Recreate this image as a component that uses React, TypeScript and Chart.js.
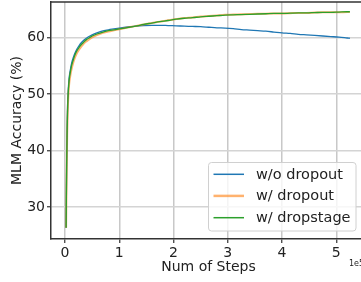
import React, { useEffect, useRef } from "react";
import { Chart, registerables } from "chart.js";

Chart.register(...registerables);

// steps (in thousands)
const steps = [2, 3, 4, 5, 6, 7, 8, 10, 12, 15, 18, 22, 26, 30, 35, 40, 45, 50, 60, 70, 80, 90, 100, 115, 130, 145, 160, 175, 190, 205, 220, 235, 250, 265, 280, 295, 310, 325, 340, 355, 370, 385, 400, 415, 430, 445, 460, 475, 490, 505, 520, 525];

const woDropout = [26.3, 38, 45, 48.8, 50.8, 52.2, 53.2, 54.4, 55.4, 56.4, 57.2, 58.0, 58.6, 59.1, 59.6, 59.95, 60.25, 60.5, 60.9, 61.2, 61.4, 61.55, 61.7, 61.9, 62.05, 62.15, 62.2, 62.2, 62.15, 62.1, 62.05, 62.0, 61.95, 61.85, 61.75, 61.7, 61.6, 61.45, 61.35, 61.25, 61.15, 61.0, 60.85, 60.75, 60.6, 60.5, 60.4, 60.3, 60.2, 60.1, 59.95, 59.9];

const wDropout = [26.3, 36, 43, 47, 49.5, 51, 52.1, 53.4, 54.4, 55.5, 56.4, 57.3, 57.9, 58.4, 59.0, 59.4, 59.75, 60.05, 60.5, 60.85, 61.1, 61.3, 61.5, 61.8, 62.05, 62.35, 62.6, 62.85, 63.1, 63.3, 63.5, 63.6, 63.75, 63.85, 63.95, 64.05, 64.1, 64.15, 64.2, 64.25, 64.25, 64.3, 64.3, 64.35, 64.4, 64.4, 64.45, 64.5, 64.5, 64.5, 64.55, 64.55];

const wDropstage = [26.3, 37, 44, 48, 50.3, 51.8, 52.8, 54.0, 55.0, 56.0, 56.9, 57.7, 58.3, 58.8, 59.3, 59.7, 60.0, 60.3, 60.7, 61.0, 61.25, 61.4, 61.55, 61.8, 62.05, 62.35, 62.6, 62.85, 63.05, 63.3, 63.45, 63.55, 63.7, 63.8, 63.9, 64.0, 64.05, 64.1, 64.15, 64.2, 64.25, 64.3, 64.3, 64.35, 64.4, 64.4, 64.45, 64.5, 64.5, 64.55, 64.6, 64.6];

const seriesLabels = ["w/o dropout", "w/ dropout", "w/ dropstage"];
const xTickValues = [0, 1, 2, 3, 4, 5];
const yTickValues = [30, 40, 50, 60];

const FONT = "'DejaVu Sans', sans-serif";
const CANVAS_W = 366;

const toPts = (vals: number[]) => vals.map((v, i) => ({ x: steps[i] * 1000, y: v }));

export default function App() {
  const ref = useRef<HTMLCanvasElement | null>(null);
  useEffect(() => {
    if (!ref.current) return;
    const legendItems = [
      { label: seriesLabels[0], color: "#1f77b4", width: 1.5 },
      { label: seriesLabels[1], color: "rgba(255,127,14,0.6)", width: 2.5 },
      { label: seriesLabels[2], color: "#2ca02c", width: 1.5 },
    ];
    const extras = {
      id: "extras",
      afterDraw(chart: any) {
        const { ctx, chartArea } = chart;
        ctx.save();
        // top spine
        ctx.strokeStyle = "#333";
        ctx.lineWidth = 1.5;
        ctx.beginPath();
        ctx.moveTo(chartArea.left, chartArea.top);
        ctx.lineTo(chartArea.right, chartArea.top);
        ctx.stroke();
        // legend
        const bx = 208.5, by = 162.5, bw = 147.5, bh = 68.5, r = 3;
        ctx.beginPath();
        ctx.moveTo(bx + r, by);
        ctx.lineTo(bx + bw - r, by);
        ctx.arcTo(bx + bw, by, bx + bw, by + r, r);
        ctx.lineTo(bx + bw, by + bh - r);
        ctx.arcTo(bx + bw, by + bh, bx + bw - r, by + bh, r);
        ctx.lineTo(bx + r, by + bh);
        ctx.arcTo(bx, by + bh, bx, by + bh - r, r);
        ctx.lineTo(bx, by + r);
        ctx.arcTo(bx, by, bx + r, by, r);
        ctx.closePath();
        ctx.fillStyle = "rgba(255,255,255,0.8)";
        ctx.fill();
        ctx.strokeStyle = "#d0d0d0";
        ctx.lineWidth = 1;
        ctx.stroke();
        const rows = [174.3, 195.9, 217.7];
        legendItems.forEach((it, i) => {
          ctx.strokeStyle = it.color;
          ctx.lineWidth = it.width;
          ctx.beginPath();
          ctx.moveTo(213.5, rows[i]);
          ctx.lineTo(244, rows[i]);
          ctx.stroke();
          ctx.fillStyle = "#222";
          ctx.font = `14.5px ${FONT}`;
          ctx.textBaseline = "middle";
          ctx.textAlign = "left";
          ctx.fillText(it.label, 256, rows[i] + 0.5);
        });
        // offset text
        ctx.font = `8px ${FONT}`;
        ctx.fillStyle = "#222";
        ctx.textAlign = "left";
        ctx.textBaseline = "middle";
        ctx.fillText("1e5", 349, 264);
        ctx.restore();
      },
    };
    const chart = new Chart(ref.current, {
      type: "line",
      data: {
        datasets: [
          { label: seriesLabels[0], data: toPts(woDropout), borderColor: "#1f77b4", borderWidth: 1.3, pointRadius: 0, order: 3, cubicInterpolationMode: "monotone" },
          { label: seriesLabels[1], data: toPts(wDropout), borderColor: "rgba(255,127,14,0.6)", borderWidth: 2, pointRadius: 0, order: 2, cubicInterpolationMode: "monotone" },
          { label: seriesLabels[2], data: toPts(wDropstage), borderColor: "#2ca02c", borderWidth: 1.3, pointRadius: 0, order: 1, cubicInterpolationMode: "monotone" },
        ],
      },
      options: {
        animation: false,
        responsive: false,
        layout: { padding: { top: 2, right: 0, left: 0, bottom: 0 } },
        plugins: { legend: { display: false }, tooltip: { enabled: false } },
        scales: {
          x: {
            type: "linear",
            min: -25830,
            max: 554740,
            afterBuildTicks: (s: any) => { s.ticks = xTickValues.map((v) => ({ value: v * 1e5 })); },
            afterFit: (s: any) => { s.height = 43; s.paddingLeft = 0; s.paddingRight = 0; },
            grid: { color: "#c8c8c8", lineWidth: 1.5, tickColor: "#333", tickLength: 4, tickWidth: 1.2 },
            border: { color: "#333", width: 1.5 },
            ticks: { font: { family: FONT, size: 14 }, color: "#222", padding: 2, maxRotation: 0, callback: (v: any) => String(Math.round(Number(v) / 1e5)) },
            title: { display: true, text: "Num of Steps", font: { family: FONT, size: 14 }, color: "#222", padding: { top: 0, bottom: 6 } },
          },
          y: {
            type: "linear",
            min: 24.31,
            max: 66.33,
            afterBuildTicks: (s: any) => { s.ticks = yTickValues.map((v) => ({ value: v })); },
            afterFit: (s: any) => { s.width = 51; s.paddingTop = 0; s.paddingBottom = 0; },
            grid: { color: "#d4d4d4", lineWidth: 1.5, tickColor: "#333", tickLength: 4, tickWidth: 1.2 },
            border: { color: "#333", width: 1.5 },
            ticks: { font: { family: FONT, size: 14 }, color: "#222", padding: 2, callback: (v: any) => String(v) },
            title: { display: true, text: "MLM Accuracy (%)", font: { family: FONT, size: 14 }, color: "#222", padding: { top: 9, bottom: 0 } },
          },
        },
      },
      plugins: [extras],
    } as any);
    return () => chart.destroy();
  }, []);
  return (
    <div style={{ position: "fixed", left: 0, top: 0, width: 361, height: 282, overflow: "hidden", background: "#fff" }}>
      <canvas ref={ref} width={CANVAS_W} height={282} style={{ display: "block" }} />
    </div>
  );
}
